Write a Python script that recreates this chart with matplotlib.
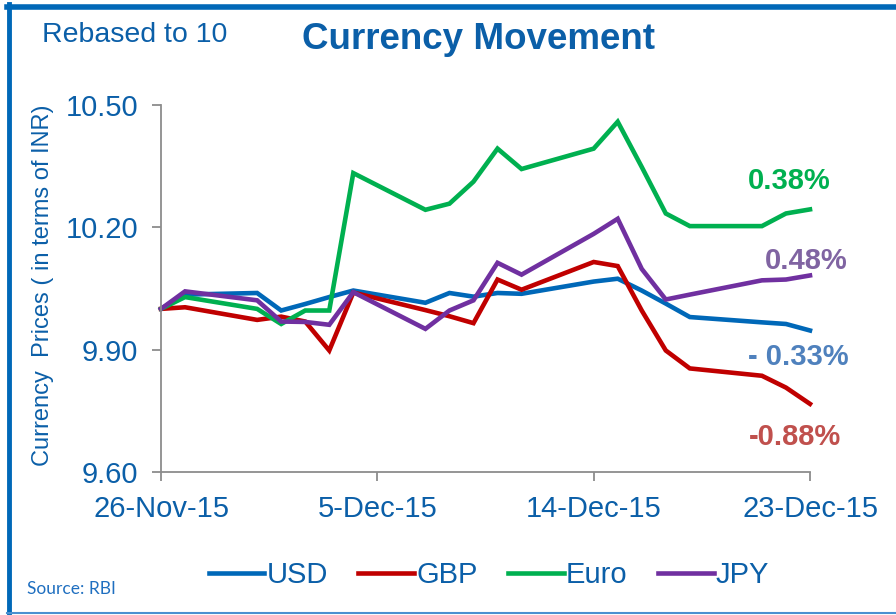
import matplotlib
matplotlib.use("Agg")
import matplotlib.pyplot as plt
import matplotlib.dates as mdates
from matplotlib.lines import Line2D
import pandas as pd

plt.rcParams['font.family'] = ['Liberation Sans', 'DejaVu Sans']

# trading days, rebased to 10
dates = pd.to_datetime([
    '2015-11-26', '2015-11-27', '2015-11-30', '2015-12-01', '2015-12-02',
    '2015-12-03', '2015-12-04', '2015-12-07', '2015-12-08', '2015-12-09',
    '2015-12-10', '2015-12-11', '2015-12-14', '2015-12-15', '2015-12-16',
    '2015-12-17', '2015-12-18', '2015-12-21', '2015-12-22', '2015-12-23'])

usd = [10.000, 10.035, 10.039, 9.996, 10.012, 10.029, 10.045, 10.015, 10.039, 10.030,
       10.039, 10.037, 10.067, 10.074, 10.045, 10.013, 9.980, 9.967, 9.963, 9.947]
gbp = [10.000, 10.004, 9.973, 9.981, 9.969, 9.898, 10.040, 9.997, 9.982, 9.965,
       10.072, 10.047, 10.115, 10.105, 9.996, 9.898, 9.854, 9.836, 9.807, 9.767]
euro = [10.000, 10.029, 10.000, 9.963, 9.996, 9.996, 10.333, 10.243, 10.258, 10.312,
        10.393, 10.343, 10.393, 10.459, 10.348, 10.234, 10.203, 10.203, 10.234, 10.244]
jpy = [10.000, 10.043, 10.021, 9.969, 9.968, 9.961, 10.041, 9.951, 9.996, 10.021,
       10.113, 10.084, 10.184, 10.221, 10.098, 10.023, 10.035, 10.070, 10.072, 10.082]

series_names = ['USD', 'GBP', 'Euro', 'JPY']
change_labels = ['- 0.33%', '-0.88%', '0.38%', '0.48%']
y_ticks = [9.60, 9.90, 10.20, 10.50]

line_colors = ['#0068B8', '#C00000', '#00B050', '#7030A0']
label_colors = ['#4F81BD', '#C0504D', '#00B050', '#8064A2']
text_blue = '#0B5FA8'
axis_grey = '#8C8C8C'

W, H = 896, 615
fig = plt.figure(figsize=(W / 100, H / 100), dpi=100)
ax = fig.add_axes([161 / W, 1 - 472 / H, (810 - 161) / W, (472 - 105) / H])

for vals, name, col in zip([usd, gbp, euro, jpy], series_names, line_colors):
    ax.plot(dates, vals, color=col, lw=3.3, label=name, solid_joinstyle='miter', clip_on=False)

ax.set_xlim(dates[0], dates[-1])
ax.set_ylim(y_ticks[0], y_ticks[-1])
ax.set_yticks(y_ticks)
ax.set_yticklabels([f'{v:.2f}' for v in y_ticks])
xt = pd.date_range(dates[0], dates[-1], freq='9D')
ax.set_xticks(xt)
ax.set_xticklabels([f'{d.day}-{d:%b-%y}' for d in xt])

for s in ['top', 'right']:
    ax.spines[s].set_visible(False)
for s in ['left', 'bottom']:
    ax.spines[s].set_color(axis_grey)
    ax.spines[s].set_linewidth(1.3)
ax.tick_params(axis='both', colors=axis_grey, length=6.5, width=1.3, direction='out',
               labelcolor=text_blue, labelsize=21)
ax.tick_params(axis='y', pad=10)
ax.tick_params(axis='x', pad=10)

# texts placed in figure pixels
def ftext(x, y, s, **kw):
    fig.text(x / W, 1 - y / H, s, **kw)

ftext(478, 49, 'Currency Movement', fontsize=26.5, fontweight='bold', color=text_blue,
      ha='center', va='baseline')
ftext(42, 42, 'Rebased to 10', fontsize=20.5, color=text_blue, ha='left', va='baseline')
ftext(43, 285, 'Currency  Prices ( in terms of INR)', fontsize=17, color=text_blue,
      rotation=90, ha='center', va='center')
ftext(27, 594, 'Source: RBI', fontsize=12.5, color='#1F6FC0', family=['Lato', 'DejaVu Sans'],
      ha='left', va='baseline')

label_pos = [(798, 365), (794.5, 445), (789.5, 189), (806, 269)]
for (x, y), s, col in zip(label_pos, change_labels, label_colors):
    ftext(x, y, s, fontsize=21, fontweight='bold', color=col, ha='center', va='baseline')

handles, labels = ax.get_legend_handles_labels()
fig.legend(handles, labels, loc='center', bbox_to_anchor=(489 / W, 1 - 575 / H), ncol=4,
           frameon=False, fontsize=21, handlelength=1.9, handletextpad=0.08,
           columnspacing=1.05, labelcolor=text_blue)

# outer border
fig.add_artist(Line2D([8.5 / W, 8.5 / W], [1 - 4 / H, 1 - 612 / H], color='#0068B8', lw=3.5,
                      transform=fig.transFigure))
fig.add_artist(Line2D([6.5 / W, 1], [1 - 6.5 / H, 1 - 6.5 / H], color='#0068B8', lw=4,
                      transform=fig.transFigure))
fig.add_artist(Line2D([6.5 / W, 1], [1 - 612.5 / H, 1 - 612.5 / H], color='#4A90D0', lw=1.5,
                      transform=fig.transFigure))

fig.savefig('out.png', dpi=100)
plt.close(fig)
